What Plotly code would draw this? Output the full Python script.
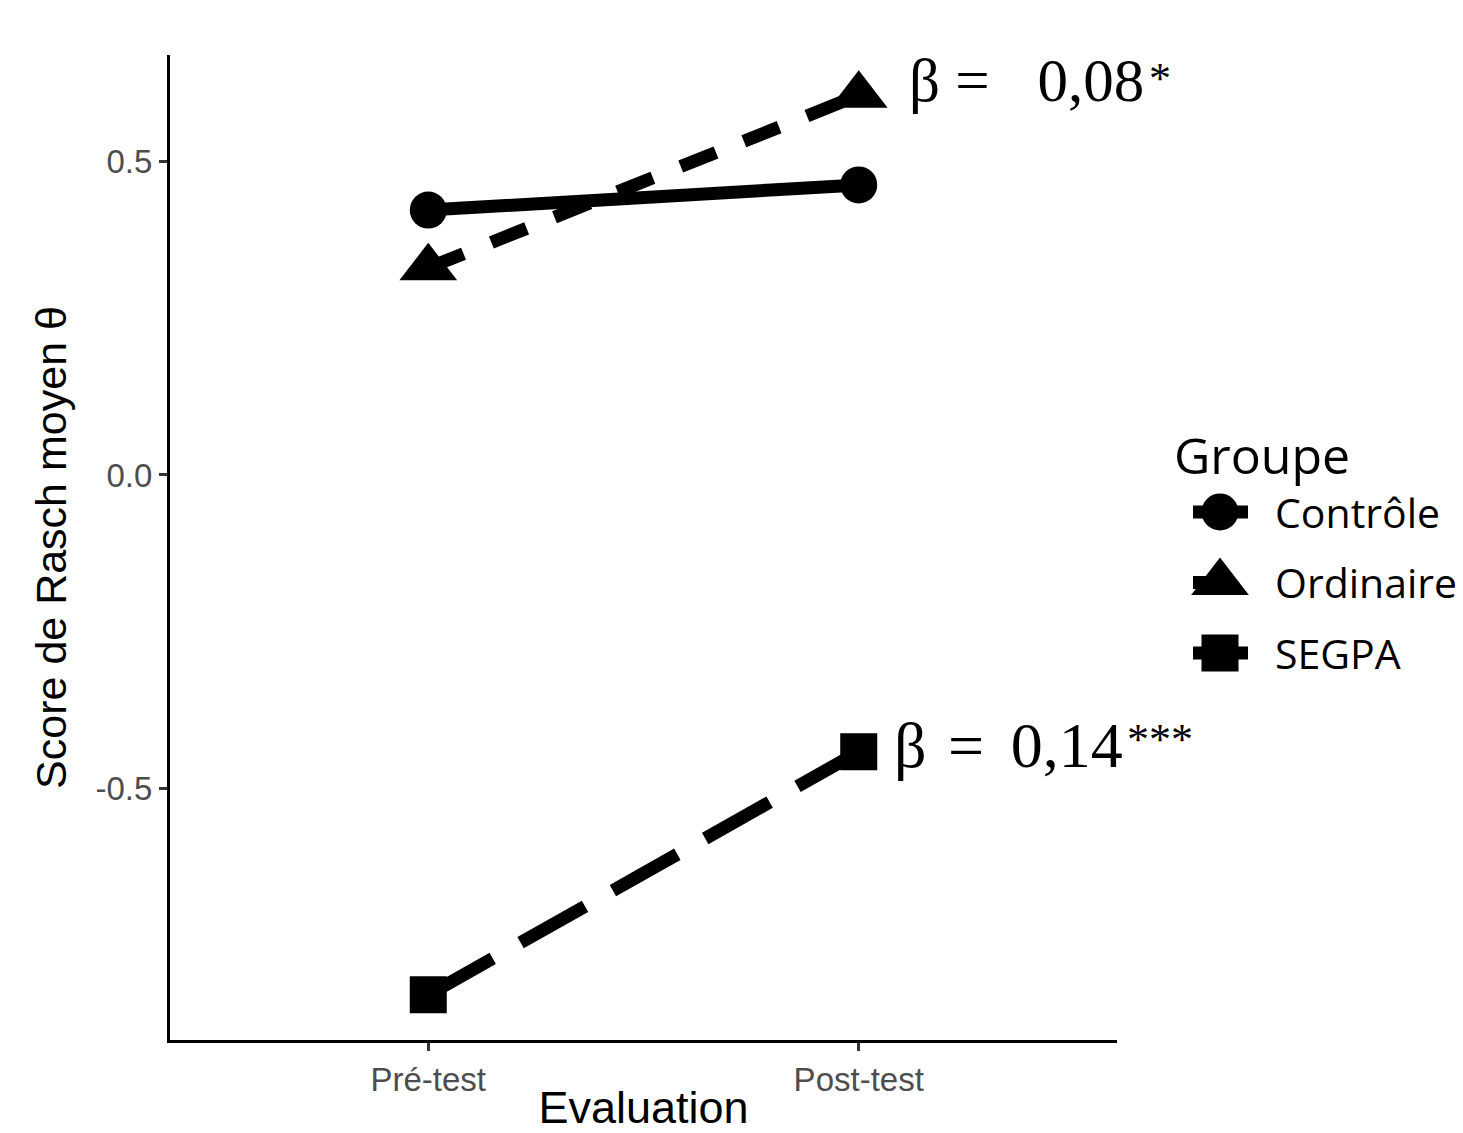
import plotly.graph_objects as go

# ---- data ----
evaluations = ["Pré-test", "Post-test"]
groups = ["Contrôle", "Ordinaire", "SEGPA"]
controle = [0.422, 0.462]
ordinaire = [0.330, 0.605]
segpa = [-0.828, -0.441]
beta_ordinaire = "0,08"
beta_segpa = "0,14"
stars_ordinaire = "*"
stars_segpa = "***"
y_tickvals = [-0.5, 0.0, 0.5]
y_ticktext = ["-0.5", "0.0", "0.5"]

series = {"Contrôle": controle, "Ordinaire": ordinaire, "SEGPA": segpa}
symbols = {"Contrôle": "circle", "Ordinaire": "triangle-up", "SEGPA": "square"}
msizes = {"Contrôle": 37, "Ordinaire": 50, "SEGPA": 37}
dashes = {"Contrôle": "solid", "Ordinaire": "38px,30px", "SEGPA": "74px,32px"}

W, H = 1463, 1133
ML, MR, MT, MB = 170, 0, 55, 93
plot_w = W - ML - MR
main_right = 1117
dom_x_main = (main_right - ML) / plot_w

fig = go.Figure()
for g in groups:
    fig.add_trace(go.Scatter(
        x=evaluations, y=series[g], mode="lines+markers", name=g,
        line=dict(color="black", width=13, dash=dashes[g]),
        marker=dict(symbol=symbols[g], size=msizes[g], color="black", line=dict(width=0)),
        showlegend=False, xaxis="x", yaxis="y",
    ))

# manual legend on auxiliary axes
for g in groups:
    fig.add_trace(go.Scatter(
        x=[23, 78], y=[g, g], mode="lines",
        line=dict(color="black", width=13, dash=dashes[g]),
        showlegend=False, xaxis="x2", yaxis="y2", hoverinfo="skip",
    ))
    fig.add_trace(go.Scatter(
        x=[50], y=[g], mode="markers",
        marker=dict(symbol=symbols[g], size=msizes[g], color="black", line=dict(width=0)),
        showlegend=False, xaxis="x2", yaxis="y2", hoverinfo="skip",
    ))

serif = "Liberation Serif"
annotations = [
    dict(x=evaluations[1], y=ordinaire[1], xref="x", yref="y",
         text="β = \u2009\u200a " + beta_ordinaire,
         xanchor="left", yanchor="middle", xshift=48, yshift=15, showarrow=False,
         font=dict(family=serif, size=61, color="black")),
    dict(x=evaluations[1], y=ordinaire[1], xref="x", yref="y", text=stars_ordinaire,
         xanchor="left", yanchor="middle", xshift=288, yshift=17, showarrow=False,
         font=dict(family=serif, size=44, color="black")),
    dict(x=evaluations[1], y=segpa[1], xref="x", yref="y",
         text="β \u200a=\u200a\u200a " + beta_segpa,
         xanchor="left", yanchor="middle", xshift=33, yshift=6, showarrow=False,
         font=dict(family=serif, size=64, color="black")),
    dict(x=evaluations[1], y=segpa[1], xref="x", yref="y", text=stars_segpa,
         xanchor="left", yanchor="middle", xshift=266, yshift=12, showarrow=False,
         font=dict(family=serif, size=44, color="black")),
    dict(x=(1172 - ML) / plot_w, y=(H - MB - 455) / (H - MT - MB), xref="paper", yref="paper",
         text="Groupe", xanchor="left", yanchor="middle", showarrow=False,
         font=dict(family="Open Sans", size=50, color="black")),
]
for g in groups:
    annotations.append(dict(x=103, y=g, xref="x2", yref="y2", text=g, xanchor="left",
                            yanchor="middle", showarrow=False,
                            font=dict(family="Open Sans", size=41, color="black")))

fig.update_layout(
    width=W, height=H,
    margin=dict(l=ML, r=MR, t=MT, b=MB, autoexpand=False),
    paper_bgcolor="white", plot_bgcolor="white",
    showlegend=False,
    xaxis=dict(domain=[0, dom_x_main], type="category", categoryarray=evaluations,
               range=[-0.6, 1.6], showline=True, linecolor="black", linewidth=3,
               ticks="outside", ticklen=8, tickwidth=3, tickcolor="#333333",
               showgrid=False, zeroline=False,
               tickfont=dict(family="Liberation Sans", size=33, color="#4d4d4d"),
               title=dict(text="Evaluation", standoff=18,
                          font=dict(family="Liberation Sans", size=45, color="black"))),
    yaxis=dict(range=[-0.9, 0.669], tickvals=y_tickvals, ticktext=y_ticktext,
               showline=True, linecolor="black", linewidth=3,
               ticks="outside", ticklen=8, tickwidth=3, tickcolor="#333333",
               showgrid=False, zeroline=False,
               tickfont=dict(family="Liberation Sans", size=33, color="#4d4d4d"),
               title=dict(text="Score de Rasch moyen θ", standoff=16,
                          font=dict(family="Liberation Sans", size=43, color="black"))),
    xaxis2=dict(domain=[(1170 - ML) / plot_w, 1.0], range=[0, 293], visible=False,
                anchor="y2", fixedrange=True),
    yaxis2=dict(domain=[0.3, 0.7], type="category", categoryarray=groups,
                range=[3.298, -2.29], visible=False, anchor="x2", fixedrange=True),
    annotations=annotations,
)

fig.write_html("out.html")
